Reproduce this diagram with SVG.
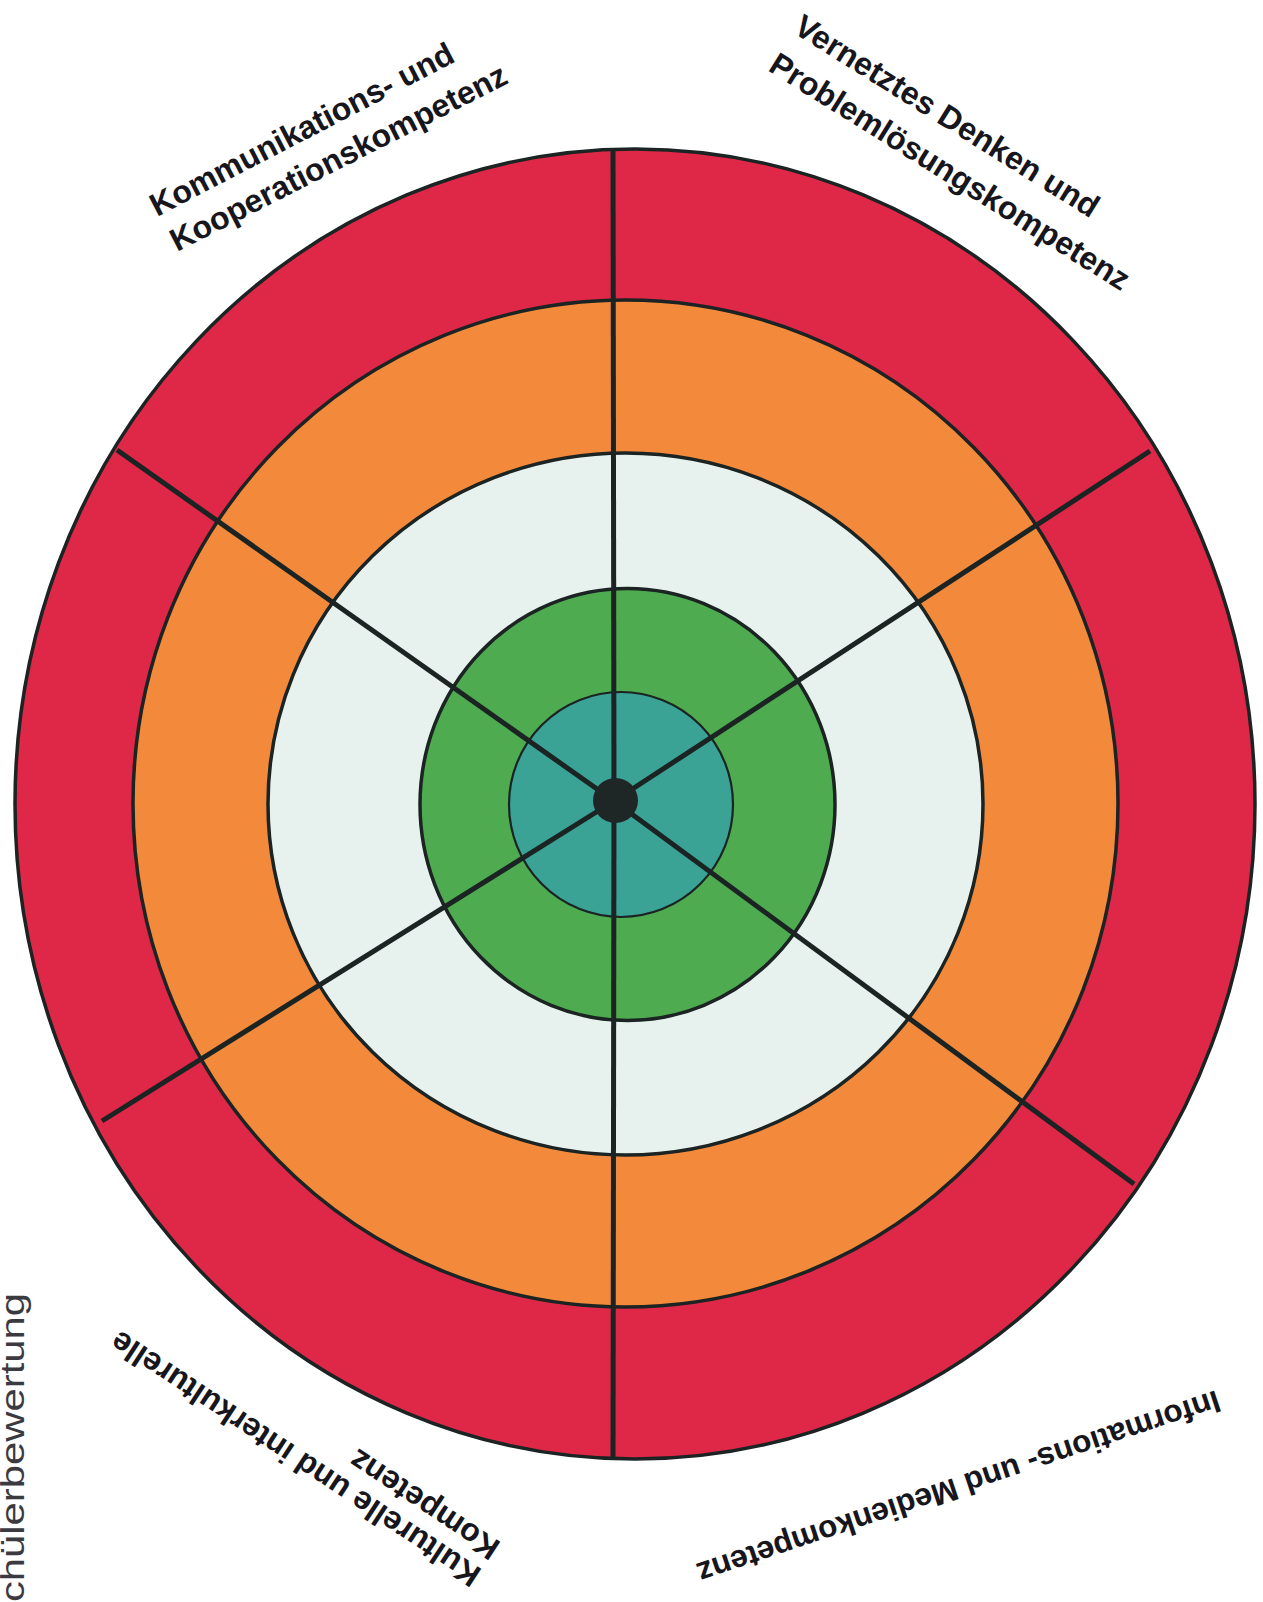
<svg xmlns="http://www.w3.org/2000/svg" width="1263" height="1602" viewBox="0 0 1263 1602">
<style>
.ring{stroke:#1b2323;stroke-width:3.5}
.spoke{stroke:#1b2323;stroke-width:5;fill:none}
.lbl{font-family:"Liberation Sans",Arial,sans-serif;font-weight:bold;font-size:32px;fill:#16161c}
.side{font-family:"Liberation Sans",Arial,sans-serif;font-size:33px;fill:#3a3a40}
</style>
<rect width="1263" height="1602" fill="#ffffff"/>
<g id="rings">
<ellipse id="ring-red" class="ring" cx="635" cy="804" rx="620" ry="655" fill="#DF2748"/>
<ellipse id="ring-orange" class="ring" cx="625.5" cy="803.5" rx="492.5" ry="503.5" fill="#F38A3B"/>
<ellipse id="ring-pale" class="ring" cx="625.5" cy="804" rx="357.5" ry="351" fill="#E7F2EE"/>
<ellipse id="ring-green" class="ring" cx="627.5" cy="804.5" rx="207.5" ry="216" fill="#4FAB50"/>
<ellipse id="ring-teal" cx="621" cy="804.5" rx="112" ry="112.5" fill="#3BA296" stroke="#1b2323" stroke-width="2.2"/>
</g>
<g id="connectors">
<line class="spoke" x1="614" y1="801" x2="613" y2="150"/>
<line class="spoke" x1="614" y1="801" x2="613" y2="1457"/>
<line class="spoke" x1="614" y1="801" x2="117" y2="450"/>
<line class="spoke" x1="614" y1="801" x2="1150" y2="451"/>
<line class="spoke" x1="614" y1="801" x2="102" y2="1121"/>
<line class="spoke" x1="614" y1="801" x2="1134" y2="1184"/>
</g>
<g id="hub"><circle cx="615.5" cy="800.5" r="22.5" fill="#1e2626"/></g>
<g id="label-kommunikation">
<text class="lbl" transform="translate(157,217) rotate(-27.5)">Kommunikations- und</text>
<text class="lbl" transform="translate(177,252) rotate(-27)">Kooperationskompetenz</text>
</g>
<g id="label-vernetztes">
<text class="lbl" transform="translate(792,32) rotate(32)">Vernetztes Denken und</text>
<text class="lbl" transform="translate(767,70) rotate(32)">Problemlösungskompetenz</text>
</g>
<g id="label-kulturelle">
<text class="lbl" transform="translate(483,1570) rotate(213.5)">Kulturelle und interkulturelle</text>
<text class="lbl" transform="translate(502,1543) rotate(213.5)">Kompetenz</text>
</g>
<g id="label-informations">
<text class="lbl" style="font-size:31.5px" transform="translate(1216,1390) rotate(161.5)">Informations- und Medienkompetenz</text>
</g>
<g id="label-side">
<text class="side" textLength="337" lengthAdjust="spacingAndGlyphs" transform="translate(24,1630) rotate(-90)">Schülerbewertung</text>
</g>
</svg>
